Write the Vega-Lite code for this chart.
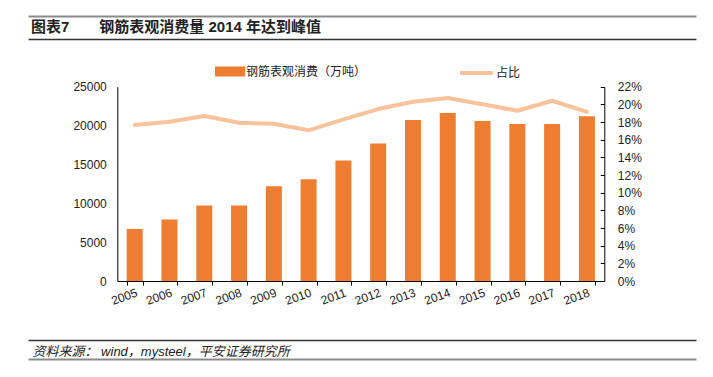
{
  "$schema": "https://vega.github.io/schema/vega-lite/v6.json",
  "autosize": "none",
  "width": 668,
  "height": 343,
  "padding": {"left": 28, "top": 16, "right": 17, "bottom": 18},
  "background": "white",
  "config": {
    "view": {"stroke": null},
    "font": "Liberation Sans, Noto Sans CJK SC",
    "axis": {"labelFont": "Liberation Sans, Noto Sans CJK SC", "labelFontSize": 12, "labelColor": "#222", "domainColor": "#000", "tickColor": "#000", "grid": false}
  },
  "title": {
    "text": "图表7　　钢筋表观消费量 2014 年达到峰值",
    "anchor": "start", "frame": "group", "orient": "top",
    "offset": 0, "dx": 3, "dy": 34, "baseline": "alphabetic",
    "fontSize": 15, "fontWeight": "bold", "color": "#222",
    "font": "Liberation Sans, Noto Sans CJK SC"
  },
  "data": {
    "values": [
      {"year": "2005", "consumption": 6700, "share": 0.1766},
      {"year": "2006", "consumption": 7900, "share": 0.1804},
      {"year": "2007", "consumption": 9700, "share": 0.1868},
      {"year": "2008", "consumption": 9700, "share": 0.1792},
      {"year": "2009", "consumption": 12200, "share": 0.1781},
      {"year": "2010", "consumption": 13100, "share": 0.1706},
      {"year": "2011", "consumption": 15500, "share": 0.1831},
      {"year": "2012", "consumption": 17700, "share": 0.1947},
      {"year": "2013", "consumption": 20700, "share": 0.2030},
      {"year": "2014", "consumption": 21600, "share": 0.2072},
      {"year": "2015", "consumption": 20600, "share": 0.2001},
      {"year": "2016", "consumption": 20200, "share": 0.1928},
      {"year": "2017", "consumption": 20200, "share": 0.2041},
      {"year": "2018", "consumption": 21200, "share": 0.1914}
    ]
  },
  "layer": [
    {
      "mark": {"type": "point", "opacity": 0},
      "encoding": {
        "x": {"datum": 0, "type": "quantitative", "scale": {"domain": [0, 1], "nice": false, "zero": false}, "axis": null},
        "y": {
          "datum": 0, "type": "quantitative",
          "scale": {"domain": [0, 343], "reverse": true, "nice": false, "zero": false},
          "axis": {
            "orient": "left", "domain": false, "ticks": false, "labels": false, "title": null,
            "grid": true, "values": [0, 23.5, 324, 343],
            "gridColor": {"condition": {"test": "datum.value == 0 || datum.value == 343", "value": "#8a8a8a"}, "value": "#333"},
            "gridWidth": {"condition": {"test": "datum.value == 0 || datum.value == 343", "value": 2}, "value": 1.3}
          }
        }
      }
    },
    {
      "mark": {"type": "bar"},
      "encoding": {
        "x": {
          "field": "year", "type": "ordinal", "sort": null,
          "scale": {"type": "band", "range": [89.3, 576.3], "paddingInner": 0.54, "paddingOuter": 0.27},
          "axis": {
            "orient": "bottom", "offset": -78,
            "labelAngle": -20, "labelAlign": "right", "labelBaseline": "top",
            "labelPadding": 2, "tickSize": 4, "tickBand": "extent",
            "title": "资料来源：  wind，mysteel，平安证券研究所",
            "titleFont": "Liberation Sans, Noto Sans CJK SC",
            "titleFontSize": 13, "titleFontWeight": "normal", "titleFontStyle": "italic",
            "titleColor": "#222", "titleX": 4, "titleY": 74,
            "titleAlign": "left", "titleAnchor": "start", "titleBaseline": "alphabetic"
          }
        },
        "y": {
          "field": "consumption", "type": "quantitative",
          "scale": {"domain": [0, 25000], "range": [265, 70.7], "nice": false},
          "axis": {"orient": "left", "offset": -89.3, "values": [0, 5000, 10000, 15000, 20000, 25000], "format": "d", "ticks": false, "labelPadding": 11, "title": null}
        },
        "color": {
          "datum": "钢筋表观消费（万吨）",
          "scale": {"range": ["#ED7D31"]},
          "legend": {
            "orient": "none", "legendX": 187, "legendY": 40.5, "padding": 0, "title": null,
            "symbolType": "M-1,-0.333H1V0.333H-1Z", "symbolSize": 900, "symbolStrokeWidth": 0,
            "labelFontSize": 12, "labelOffset": 1, "labelColor": "#222",
            "labelFont": "Liberation Sans, Noto Sans CJK SC"
          }
        }
      }
    },
    {
      "mark": {"type": "line", "strokeWidth": 4, "strokeCap": "round", "strokeJoin": "round"},
      "encoding": {
        "x": {
          "field": "year", "type": "ordinal", "sort": null,
          "scale": {"type": "band", "range": [89.3, 576.3], "paddingInner": 0.54, "paddingOuter": 0.27},
          "axis": null
        },
        "y": {
          "field": "share", "type": "quantitative",
          "scale": {"domain": [0, 0.22], "range": [265, 70.7], "nice": false},
          "axis": {"orient": "right", "offset": -91.7, "values": [0, 0.02, 0.04, 0.06, 0.08, 0.1, 0.12, 0.14, 0.16, 0.18, 0.2, 0.22], "format": ".0%", "tickSize": -4, "labelPadding": 17, "title": null}
        },
        "stroke": {
          "datum": "占比",
          "scale": {"range": ["#F8C29A"]},
          "legend": {
            "orient": "none", "legendX": 430, "legendY": 38.5, "padding": 0, "title": null,
            "symbolType": "stroke", "symbolSize": 1089, "symbolStrokeWidth": 4,
            "labelFontSize": 12, "labelOffset": 1, "labelColor": "#222",
            "labelFont": "Liberation Sans, Noto Sans CJK SC"
          }
        }
      }
    }
  ],
  "resolve": {"scale": {"x": "independent", "y": "independent"}, "axis": {"x": "independent", "y": "independent"}}
}
